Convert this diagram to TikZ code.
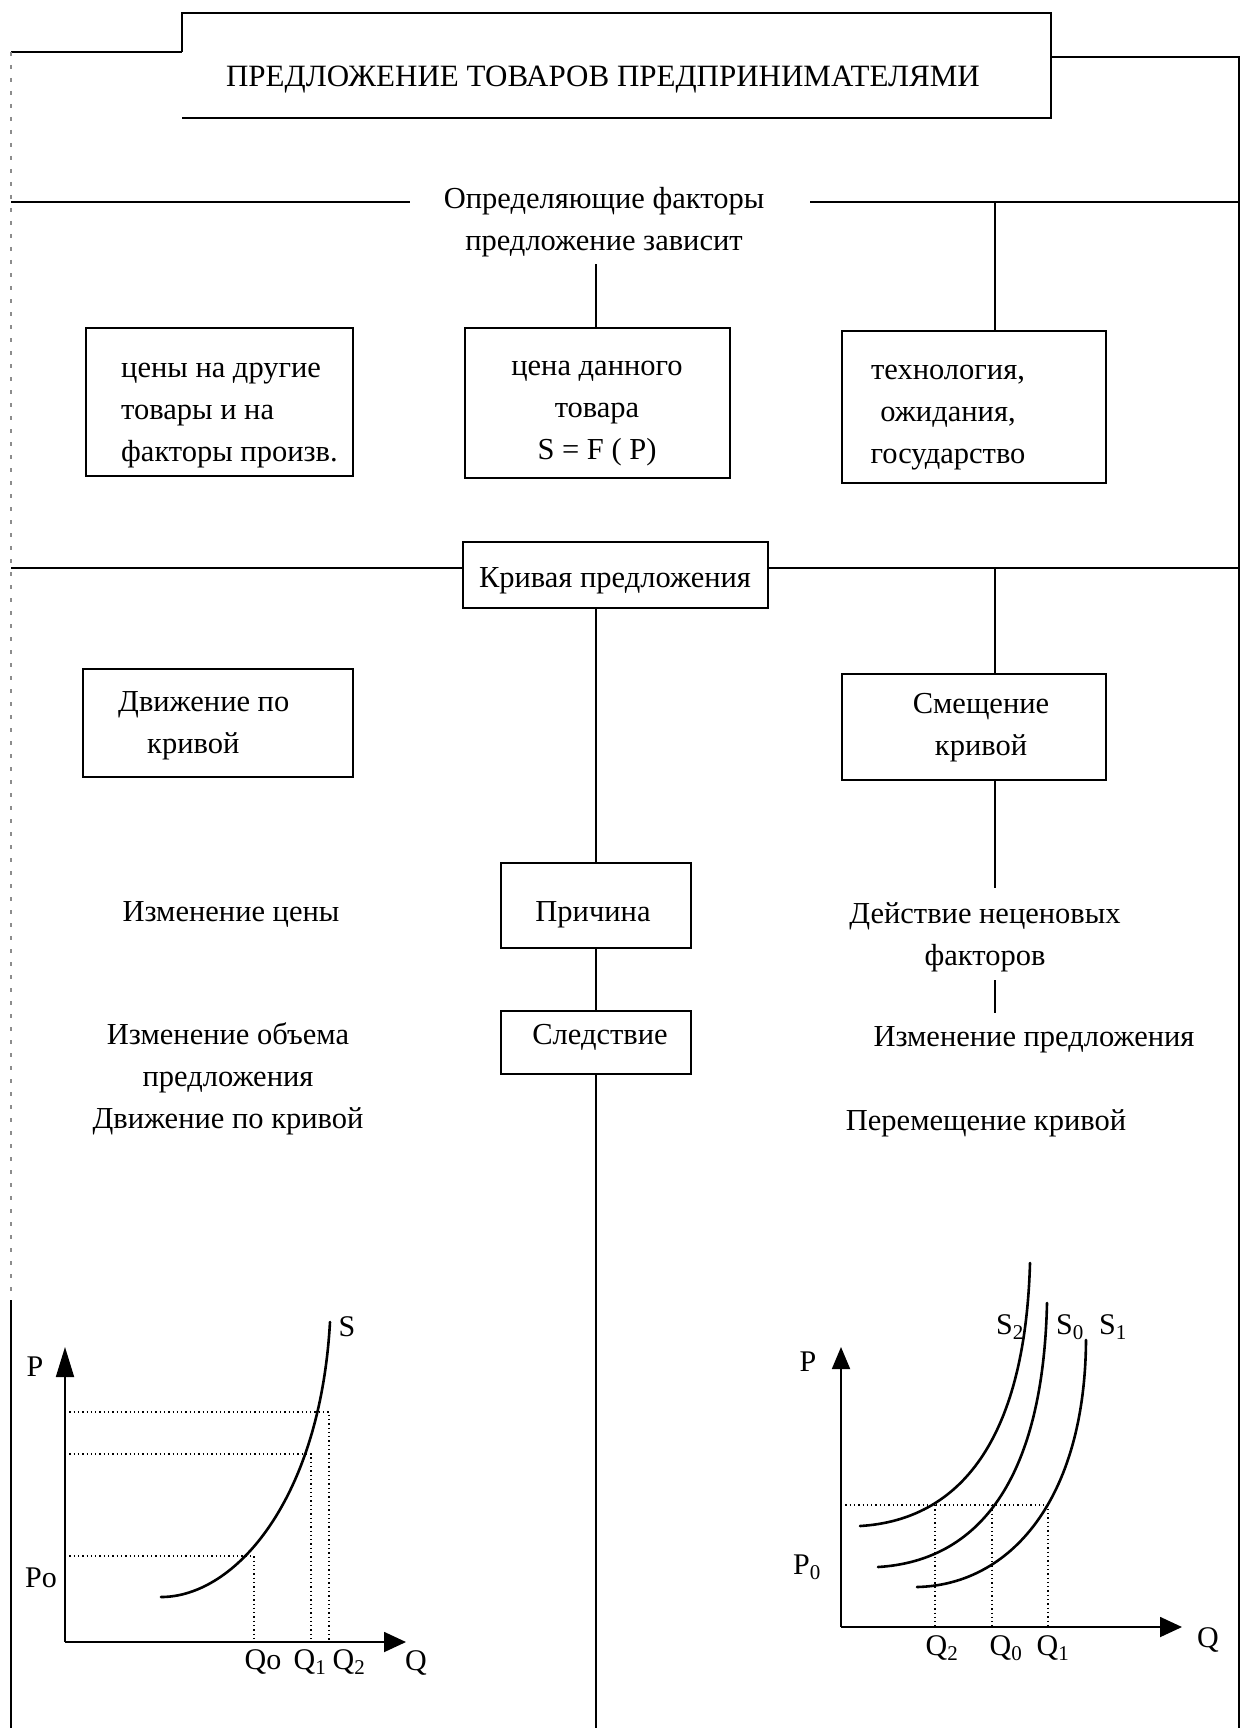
\documentclass[tikz,border=0pt]{standalone}
\usepackage{fontspec}
\setmainfont{Liberation Serif}
\usetikzlibrary{arrows.meta}
\begin{document}
\begin{tikzpicture}[x=1pt,y=-1pt,
  every node/.style={inner sep=0pt},
  txt/.style={font=\fontsize{30.5}{42}\selectfont, align=center},
  gl/.style={font=\fontsize{30}{36}\selectfont},
  boxn/.style={draw, line width=2.2pt},
  ln/.style={line width=2.2pt},
  framel/.style={line width=2.2pt},
  faint/.style={line width=1.2pt, black!45, dash pattern=on 4pt off 9pt},
  dots/.style={line width=1.3pt, dash pattern=on 1.3pt off 3pt},
  curvel/.style={line width=2.6pt, line cap=round},
  axisl/.style={line width=1.8pt},
]
\useasboundingbox (0,0) rectangle (1243,1728);

% title
\node[txt, font=\fontsize{31}{36}\selectfont] (title) at (603,80) {ПРЕДЛОЖЕНИЕ ТОВАРОВ ПРЕДПРИНИМАТЕЛЯМИ};
\coordinate (tNW) at (182,13); \coordinate (tNE) at (1051,13);
\coordinate (tSE) at (1051,118); \coordinate (tSW) at (182,118);
\coordinate (tW) at (182,52); \coordinate (tE) at (1051,57);
\draw[line width=2.8pt] (tW) -- (tNW) -- (tNE) -- (tSE) -- (tSW);

% frame
\coordinate (fTL) at (11,52); \coordinate (fML) at (11,1300); \coordinate (fBL) at (11,1728);
\coordinate (fTR) at (1239,57); \coordinate (fBR) at (1239,1728);
\draw[framel] (fTL) -- (tW);
\draw[faint] (fTL) -- (fML);
\draw[framel] (fML) -- (fBL);
\draw[framel] (tE) -- (fTR) -- (fBR);

% determinants
\node[txt] (defn) at (604,222) {Определяющие факторы\\предложение зависит};
\coordinate (h1L) at (11,202); \coordinate (h1a) at (410,202);
\coordinate (h1b) at (810,202); \coordinate (h1R) at (1239,202);
\draw[ln] (h1L) -- (h1a);
\draw[ln] (h1b) -- (h1R);

\node[boxn, minimum width=265, minimum height=150] (mid1) at (597.5,403) {};
\node[txt] (mid1t) at (597,414) {цена данного\\товара\\S = F ( P)};
\node[boxn, minimum width=267, minimum height=148] (left1) at (219.5,402) {};
\node[txt, align=left, anchor=west] (left1t) at (121,416) {цены на другие\\товары и на\\факторы произв.};
\node[boxn, minimum width=264, minimum height=152] (right1) at (974,407) {};
\node[txt] (right1t) at (948,418) {технология,\\ожидания,\\государство};

\coordinate (c1) at (596,264);
\draw[ln] (c1) -- (c1 |- mid1.north);
\coordinate (r1) at (995,202);
\draw[ln] (r1) -- (r1 |- right1.north);

% supply curve
\node[boxn, minimum width=305, minimum height=66] (kriv) at (615.5,575) {};
\node[txt] (krivt) at (615,581) {Кривая предложения};
\coordinate (h2L) at (11,568); \coordinate (h2R) at (1239,568);
\draw[ln] (h2L) -- (h2L -| kriv.west);
\draw[ln] (kriv.east |- h2R) -- (h2R);

\node[boxn, minimum width=190, minimum height=85] (prich) at (596,905.5) {};
\node[txt] (pricht) at (593,915) {Причина};
\node[boxn, minimum width=190, minimum height=63] (sled) at (596,1042.5) {};
\node[txt] (sledt) at (600,1037) {Следствие};
\coordinate (cB) at (596,1728);
\draw[ln] (kriv.south -| prich.north) -- (prich.north);
\draw[ln] (prich.south) -- (sled.north);
\draw[ln] (sled.south) -- (cB);

\node[boxn, minimum width=270, minimum height=108] (left2) at (218,723) {};
\node[txt, align=left, anchor=west] (left2t) at (118,726) {Движение по\\\hspace*{29pt}кривой};

\node[boxn, minimum width=264, minimum height=106] (smesh) at (974,727) {};
\node[txt] (smesht) at (981,728) {Смещение\\кривой};
\coordinate (r2) at (995,568);
\draw[ln] (r2) -- (r2 |- smesh.north);
\node[txt] (deistv) at (985,937) {Действие неценовых\\факторов};
\coordinate (r3) at (995,888);
\draw[ln] (smesh.south -| r2) -- (r3);
\node[txt] (izmpr) at (1034,1040) {Изменение предложения};
\coordinate (r4) at (995,980); \coordinate (r5) at (995,1013);
\draw[ln] (r4) -- (r5);
\node[txt] (perem) at (986,1123) {Перемещение кривой};

\node[txt] (izmc) at (231,914) {Изменение цены};
\node[txt] (izmob) at (228,1079) {Изменение объема\\предложения\\Движение по кривой};

% left graph
\coordinate (O1) at (65,1642); \coordinate (P1) at (65,1347); \coordinate (Q1e) at (406,1642);
\draw[axisl, -{Triangle[length=30pt,width=18pt]}] (O1) -- (P1);
\draw[axisl, -{Triangle[length=22pt,width=20pt]}] (O1) -- (Q1e);
\draw[curvel] (161,1597) .. controls (235,1597) and (320,1500) .. (330,1322);
\draw[dots] (65,1556) -- (254,1556) -- (254,1642);
\draw[dots] (65,1454) -- (311,1454) -- (311,1642);
\draw[dots] (65,1412) -- (329,1412) -- (329,1642);
\node[gl] (lP) at (35,1367) {P};
\node[gl] (lPo) at (41,1578) {Po};
\node[gl] (lS) at (347,1327) {S};
\node[gl] (lQo) at (263,1662) {Qo};
\node[gl] (lQ1) at (310,1662) {Q\textsubscript{1}};
\node[gl] (lQ2) at (349,1662) {Q\textsubscript{2}};
\node[gl] (lQ) at (416,1663) {Q};

% right graph
\coordinate (O2) at (841,1627); \coordinate (P2) at (841,1347); \coordinate (Q2e) at (1182,1627);
\draw[axisl, -{Triangle[length=22pt,width=18pt]}] (O2) -- (P2);
\draw[axisl, -{Triangle[length=22pt,width=20pt]}] (O2) -- (Q2e);
\draw[curvel] (860,1526) .. controls (960,1520) and (1025,1440) .. (1030,1263);
\draw[curvel] (878,1567) .. controls (978,1561) and (1043,1481) .. (1047,1303);
\draw[curvel] (917,1587) .. controls (1010,1585) and (1085,1500) .. (1086,1340);
\draw[dots] (841,1505) -- (1048,1505) -- (1048,1627);
\draw[dots] (935,1505) -- (935,1627);
\draw[dots] (992,1505) -- (992,1627);
\node[gl] (rP) at (808,1362) {P};
\node[gl] (rP0) at (807,1567) {P\textsubscript{0}};
\node[gl] (rS2) at (1010,1327) {S\textsubscript{2}};
\node[gl] (rS0) at (1070,1327) {S\textsubscript{0}};
\node[gl] (rS1) at (1113,1327) {S\textsubscript{1}};
\node[gl] (rQ2) at (942,1648) {Q\textsubscript{2}};
\node[gl] (rQ0) at (1006,1648) {Q\textsubscript{0}};
\node[gl] (rQ1) at (1053,1648) {Q\textsubscript{1}};
\node[gl] (rQ) at (1208,1640) {Q};
\end{tikzpicture}
\end{document}
